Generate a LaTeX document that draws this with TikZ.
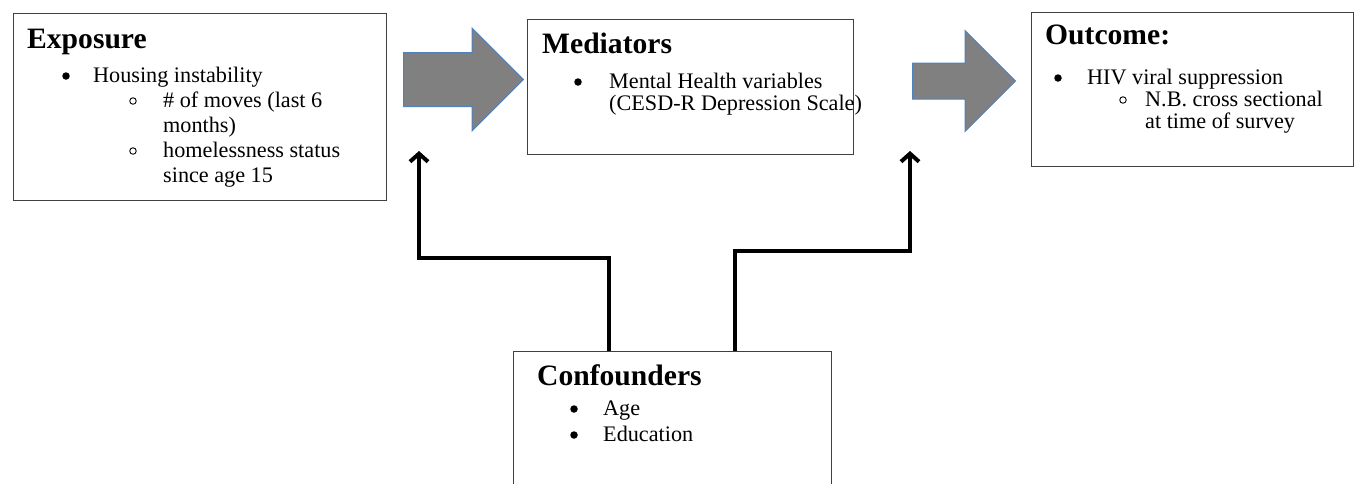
\documentclass[tikz,border=0pt]{standalone}
\usepackage{fontspec}
\setmainfont{Liberation Serif}
\usetikzlibrary{arrows.meta,shapes.arrows}

\tikzset{
  box/.style={draw=black!75,line width=1.3pt,anchor=north west,inner sep=0pt},
  head/.style={anchor=base west,inner sep=0pt,font=\fontsize{29.6}{34}\selectfont\bfseries},
  txt/.style={anchor=base west,inner sep=0pt,font=\fontsize{22.2}{25.5}\selectfont},
  bul/.style={circle,fill,inner sep=0pt,minimum size=7.5pt},
  ring/.style={circle,draw,line width=0.9pt,inner sep=0pt,minimum size=6.5pt},
  blockarrow/.style={single arrow,anchor=tail,fill=black!50,draw={rgb,255:red,79;green,129;blue,189},
    line width=1pt,inner xsep=0pt,single arrow head indent=0pt},
  conn/.style={line width=4pt,-{Straight Barb[length=8pt,width=18pt]}}
}

\begin{document}
\begin{tikzpicture}[x=1pt,y=-1pt]

  \clip (0,0) rectangle (1361,483);

  % boxes
  \node[box,minimum width=373pt,minimum height=187pt] (expo) at (13,13) {};
  \node[box,minimum width=326pt,minimum height=135pt] (medi) at (527,19) {};
  \node[box,minimum width=322pt,minimum height=154pt] (outc) at (1031,12) {};
  \node[box,minimum width=318pt,minimum height=140pt] (conf) at (513,351) {};

  % exposure
  \node[head] (expoh) at (27,48) {Exposure};
  \node[bul] (eb1) at (66,76) {};
  \node[txt] (et1) at (93,82) {Housing instability};
  \node[ring] (eo1) at (133,101) {};
  \node[txt] (et2) at (163,107) {\# of moves (last 6};
  \node[txt] (et3) at (163,132) {months)};
  \node[ring] (eo2) at (133,151) {};
  \node[txt] (et4) at (163,157) {homelessness status};
  \node[txt] (et5) at (163,182) {since age 15};

  % mediators
  \node[head] (medih) at (542,53) {Mediators};
  \node[bul] (mb1) at (578,82) {};
  \node[txt] (mt1) at (609,88) {Mental Health variables};
  \node[txt] (mt2) at (609,110) {(CESD-R Depression Scale)};

  % outcome
  \node[head] (outch) at (1045,44) {Outcome:};
  \node[bul] (ob1) at (1058,78) {};
  \node[txt] (ot1) at (1087,84) {HIV viral suppression};
  \node[ring] (oo1) at (1123,100) {};
  \node[txt] (ot2) at (1145,106) {N.B. cross sectional};
  \node[txt] (ot3) at (1145,128) {at time of survey};

  % confounders
  \node[head] (confh) at (537,385) {Confounders};
  \node[bul] (cb1) at (574,409) {};
  \node[txt] (ct1) at (603,415) {Age};
  \node[bul] (cb2) at (574,435) {};
  \node[txt] (ct2) at (603,441) {Education};

  % block arrows
  \node[blockarrow,minimum height=120pt,inner ysep=26.5pt,single arrow head extend=24.5pt] (arr1) at (403,79.5) {};
  \node[blockarrow,minimum height=103pt,inner ysep=17.5pt,single arrow head extend=32.5pt] (arr2) at (912,81) {};

  % confounder paths
  \coordinate (tipl) at (419,151);
  \coordinate (tipr) at (910,151);
  \draw[conn] ([xshift=96pt]conf.north west) -- ++(0,-93) -| (tipl);
  \draw[conn] ([xshift=222pt]conf.north west) -- ++(0,-100) -| (tipr);

\end{tikzpicture}
\end{document}
